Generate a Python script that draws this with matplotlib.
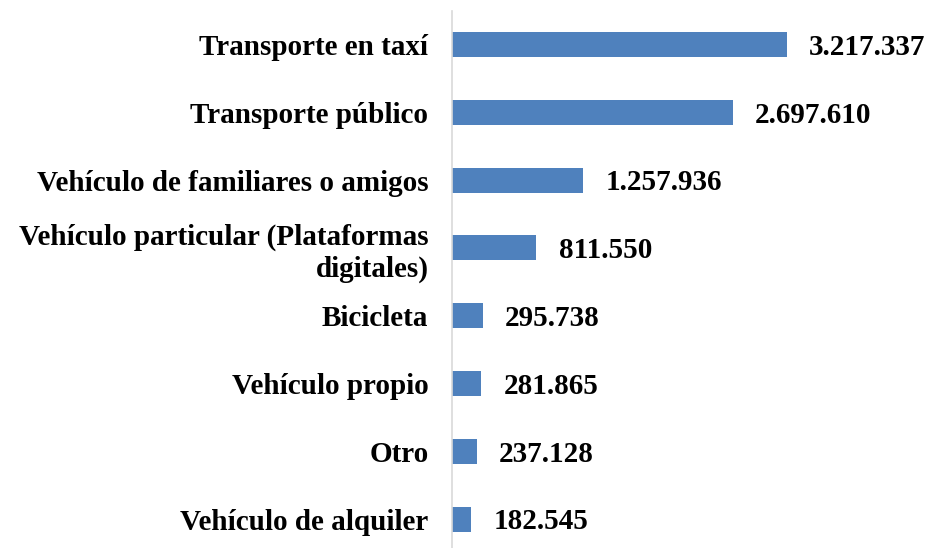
import matplotlib.pyplot as plt

plt.rcParams['font.family'] = ['Liberation Serif', 'DejaVu Serif']

categories = [
    'Transporte en taxí',
    'Transporte público',
    'Vehículo de familiares o amigos',
    'Vehículo particular (Plataformas\ndigitales)',
    'Bicicleta',
    'Vehículo propio',
    'Otro',
    'Vehículo de alquiler',
]
values = [3217337, 2697610, 1257936, 811550, 295738, 281865, 237128, 182545]

BAR_COLOR = '#4F81BD'


def fmt_thousands(v):
    return format(v, ',').replace(',', '.')


fig = plt.figure(figsize=(9.3, 5.48), dpi=100)
W, H = 930, 548
ax = fig.add_axes([452 / W, -5 / H, (W - 452) / W, (553 - 10.6) / H])

pos = list(range(len(categories)))
ax.barh(pos, values, height=0.37, color=BAR_COLOR)

for p, v in zip(pos, values):
    ax.annotate(fmt_thousands(v), xy=(v, p), xytext=(16, -2), textcoords='offset points',
                va='center', ha='left', fontsize=21, fontweight='bold', color='black')

ax.set_yticks(pos)
ax.set_yticklabels(categories, fontsize=21, fontweight='bold')
ax.tick_params(axis='y', length=0, pad=17)
ax.set_ylim(len(categories) - 0.5, -0.5)
ax.set_xlim(0, (W - 452) / 1.041e-4)
ax.set_xticks([])

for side in ['top', 'right', 'bottom']:
    ax.spines[side].set_visible(False)
ax.spines['left'].set_color('#D9D9D9')
ax.spines['left'].set_linewidth(1.2)

fig.savefig('out.png', dpi=100)
